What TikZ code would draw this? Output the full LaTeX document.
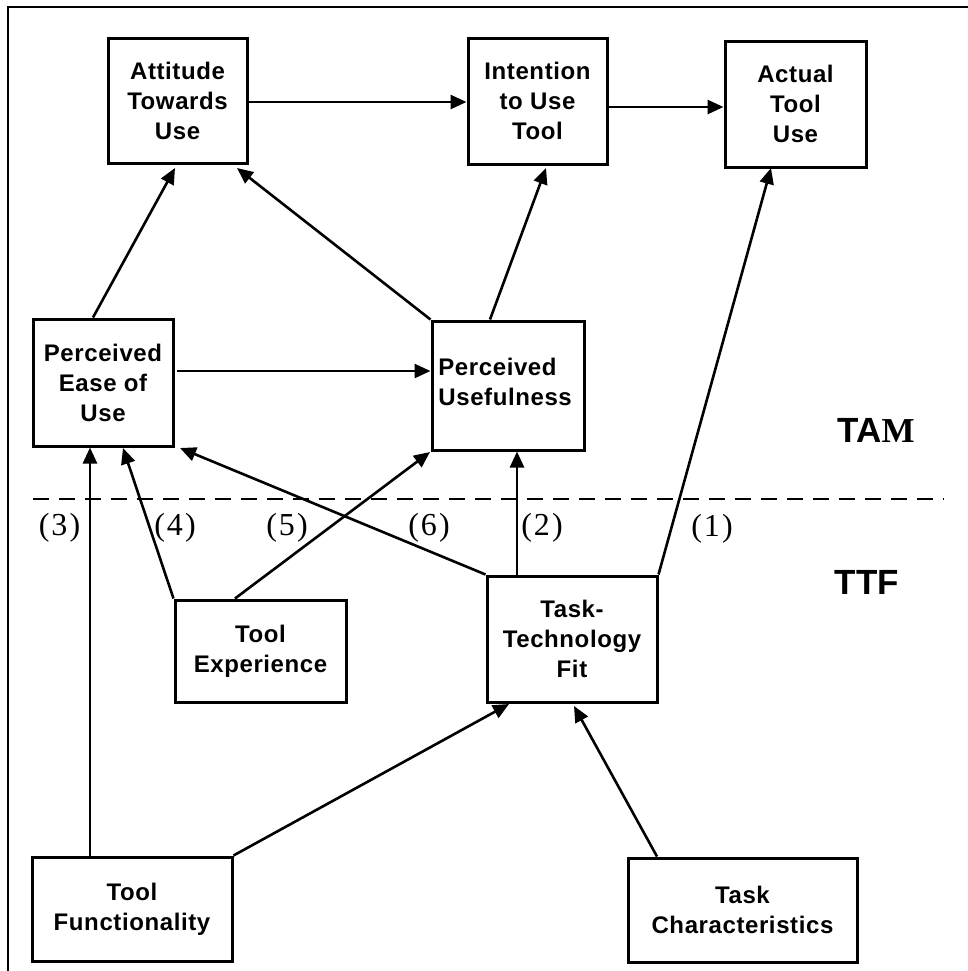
\documentclass[tikz,border=0pt]{standalone}
\usepackage{fontspec}
\setmainfont{Liberation Sans}[LetterSpace=2.5]
\newfontfamily\serifnum{Liberation Serif}
\newfontfamily\tamsans{Liberation Sans}
\usetikzlibrary{arrows.meta}
\begin{document}
\begin{tikzpicture}[x=0.5pt,y=-0.5pt,
  box/.style={draw,line width=1.5pt,inner sep=0pt,align=center,
    font=\bfseries\fontsize{12}{15}\selectfont},
  conn/.style={line width=1.3pt,-{Triangle[length=8pt,width=7pt]}},
  lbl/.style={font=\serifnum\fontsize{16}{18}\selectfont,inner sep=0pt},
  big/.style={font=\tamsans\bfseries\fontsize{17.5}{20}\selectfont,inner sep=0pt}]
\useasboundingbox (0,0) rectangle (968,971);
\draw[line width=1.1pt] (8,971) -- (8,7) -- (968,7);

\node[box,minimum width=69.5pt,minimum height=62.5pt] (att) at (177.5,100.5) {Attitude\\Towards\\Use};
\node[box,minimum width=69.5pt,minimum height=63pt] (int) at (537.5,101) {Intention\\to Use\\Tool};
\node[box,minimum width=70.5pt,minimum height=63pt] (act) at (795.5,104) {Actual\\Tool\\Use};
\node[box,minimum width=70pt,minimum height=63.5pt] (peou) at (103,382.5) {Perceived\\Ease of\\Use};
\node[draw,line width=1.5pt,minimum width=76pt,minimum height=64.5pt,inner sep=0pt] (pu) at (508,385.5) {};
\node[align=left,inner sep=0pt,font=\bfseries\fontsize{12}{15}\selectfont,anchor=west] (putext) at (438,382) {Perceived\\Usefulness};
\node[box,minimum width=85.5pt,minimum height=51pt] (texp) at (260.5,651) {Tool\\Experience};
\node[box,minimum width=100pt,minimum height=52pt] (tfun) at (132,909) {Tool\\Functionality};
\node[box,minimum width=85pt,minimum height=63pt] (ttf) at (572,639) {Task-\\Technology\\Fit};
\node[box,minimum width=114.5pt,minimum height=52pt] (tch) at (742.5,910) {Task\\Characteristics};

\coordinate (dl) at (33,499);
\coordinate (dr) at (944,499);
\draw[line width=1.1pt,dash pattern=on 8pt off 5pt] (dl) -- (dr);

\node[lbl] (l3) at (59.5,528) {(\kern1pt 3\kern1pt)};
\node[lbl] (l4) at (175,528) {(\kern1pt 4\kern1pt)};
\node[lbl] (l5) at (287,528) {(\kern1pt 5\kern1pt)};
\node[lbl] (l6) at (429,528) {(\kern1pt 6\kern1pt)};
\node[lbl] (l2) at (542,528) {(\kern1pt 2\kern1pt)};
\node[lbl] (l1) at (712,529) {(\kern1pt 1\kern1pt)};

\node[big] (tam) at (876,430) {TA{\serifnum\bfseries M}};
\node[big] (ttflbl) at (867,582) {TTF};

\draw[conn] (att.east |- 0,102) -- (int.west |- 0,102);
\draw[conn] (int.east |- 0,107) -- (act.west |- 0,107);
\draw[conn] (peou.north -| 93,0) -- (175,168);
\draw[conn] (pu.north west) -- (237,168);
\draw[conn] (pu.north -| 490,0) -- (546,168);
\draw[conn] (ttf.north east) -- (771,168);
\draw[conn] (177,371) -- (pu.west |- 0,371);
\draw[conn] (ttf.north -| 517,0) -- (pu.south -| 517,0);
\draw[conn] (ttf.north west) -- (180,448);
\draw[conn] (texp.north west) -- (123,448);
\draw[conn] (texp.north -| 235,0) -- (430,452);
\draw[conn] (tfun.north -| 90,0) -- (peou.south -| 90,0);
\draw[conn] (tfun.north east) -- (509,704);
\draw[conn] (tch.north -| 657,0) -- (574,706);
\end{tikzpicture}
\end{document}
